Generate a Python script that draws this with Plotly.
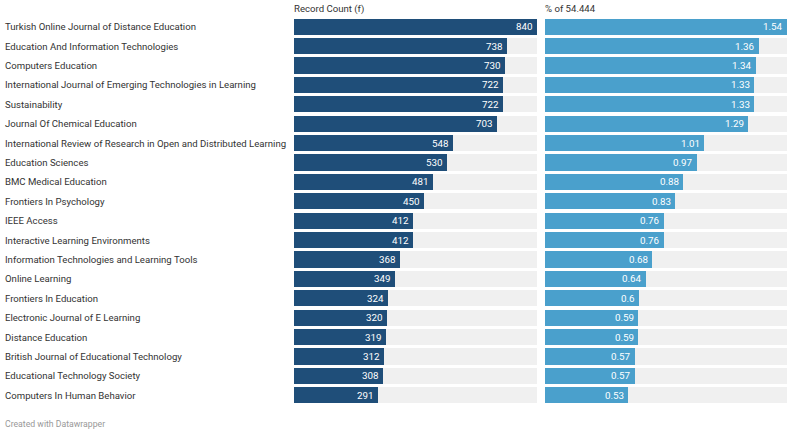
import plotly.graph_objects as go

journals = [
    "Turkish Online Journal of Distance Education",
    "Education And Information Technologies",
    "Computers Education",
    "International Journal of Emerging Technologies in Learning",
    "Sustainability",
    "Journal Of Chemical Education",
    "International Review of Research in Open and Distributed Learning",
    "Education Sciences",
    "BMC Medical Education",
    "Frontiers In Psychology",
    "IEEE Access",
    "Interactive Learning Environments",
    "Information Technologies and Learning Tools",
    "Online Learning",
    "Frontiers In Education",
    "Electronic Journal of E Learning",
    "Distance Education",
    "British Journal of Educational Technology",
    "Educational Technology Society",
    "Computers In Human Behavior",
]
record_count = [840, 738, 730, 722, 722, 703, 548, 530, 481, 450,
                412, 412, 368, 349, 324, 320, 319, 312, 308, 291]
percent = [1.54, 1.36, 1.34, 1.33, 1.33, 1.29, 1.01, 0.97, 0.88, 0.83,
           0.76, 0.76, 0.68, 0.64, 0.6, 0.59, 0.59, 0.57, 0.57, 0.53]
headers = ["Record Count (f)", "% of 54.444"]

W, H = 792, 433
DARK = "#1f4e79"
LIGHT = "#4aa0cc"
GREY = "#f0f0f0"
FONT = "Roboto"

rows = list(range(len(journals)))


def px_x(p):
    return p / W


def px_y(p):
    # pixel from top -> paper coordinate (margins are zero)
    return 1 - p / H


fig = go.Figure()


def add_panel(values, color, xaxis, yaxis):
    top = max(values)
    fig.add_trace(go.Bar(
        x=[top] * len(values), y=rows, orientation="h",
        marker=dict(color=GREY, line=dict(width=0)),
        hoverinfo="skip", xaxis=xaxis, yaxis=yaxis, width=0.83,
    ))
    fig.add_trace(go.Bar(
        x=values, y=rows, orientation="h",
        marker=dict(color=color, line=dict(width=0)),
        xaxis=xaxis, yaxis=yaxis, width=0.83,
    ))
    for i, v in enumerate(values):
        fig.add_annotation(
            x=v, xref=xaxis, y=i, yref=yaxis, text=f"{v:g}",
            showarrow=False, xanchor="right", yanchor="middle", xshift=-2,
            font=dict(family=FONT, size=9.8, color="white"),
        )
    return top


top1 = add_panel(record_count, DARK, "x", "y")
top2 = add_panel(percent, LIGHT, "x2", "y2")

axis_common = dict(showgrid=False, zeroline=False, showticklabels=False,
                   showline=False, fixedrange=True)
yrange = [len(rows) - 0.5, -0.5]
ydomain = [px_y(405), px_y(17)]

fig.update_layout(
    width=W, height=H,
    margin=dict(l=0, r=0, t=0, b=0),
    paper_bgcolor="white", plot_bgcolor="white",
    barmode="overlay", bargap=0, showlegend=False,
    font=dict(family=FONT, size=9.6, color="#333333"),
    xaxis=dict(domain=[px_x(294), px_x(537)], range=[0, top1], **axis_common),
    xaxis2=dict(domain=[px_x(545), px_x(787)], range=[0, top2], **axis_common),
    yaxis=dict(domain=ydomain, range=yrange, anchor="x", **axis_common),
    yaxis2=dict(domain=ydomain, range=yrange, anchor="x2", **axis_common),
)

for i, name in enumerate(journals):
    fig.add_annotation(
        x=px_x(3), xref="paper", y=i, yref="y", text=name, showarrow=False,
        xanchor="left", yanchor="middle",
        font=dict(family=FONT, size=9.6, color="#333333"),
    )

for xpos, label in zip([292, 543], headers):
    fig.add_annotation(
        x=px_x(xpos), xref="paper", y=px_y(8.5), yref="paper", yanchor="middle",
        text=label, showarrow=False, xanchor="left",
        font=dict(family=FONT, size=9.6, color="#333333"),
    )

fig.add_annotation(
    x=px_x(3), xref="paper", y=px_y(424), yref="paper", yanchor="middle",
    text="Created with Datawrapper", showarrow=False, xanchor="left",
    font=dict(family=FONT, size=8.7, color="#999999"),
)

fig.write_html("out.html", config={"displayModeBar": False},
               post_script="document.body.style.margin='0px';")
